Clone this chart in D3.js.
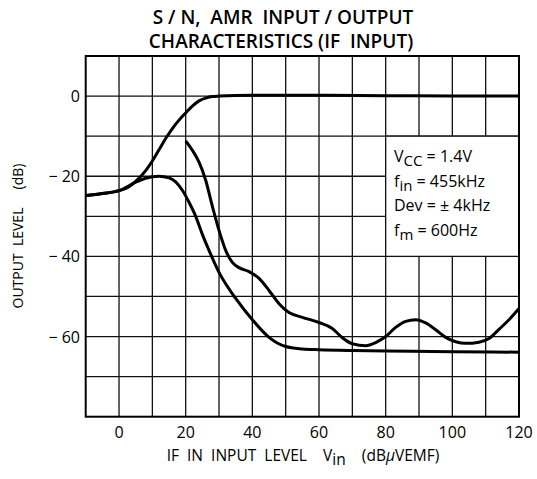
<!DOCTYPE html>
<html>
<head>
<meta charset="utf-8">
<script src="https://d3js.org/d3.v7.min.js"></script>
<style>
	body { margin: 0; background: white; }
	svg { display: block; font-family: "Open Sans", "DejaVu Sans", sans-serif; }
</style>
</head>
<body>
<svg width="537" height="479"></svg>
<script>
	// x values in dBuVEMF, y values in dB
	var xTicks = [0, 20, 40, 60, 80, 100, 120]
	var yTicks = [0, -20, -40, -60]

	var outX = [-10, -5, 0, 3, 5, 8, 10, 12, 14, 16, 18, 20, 22, 24, 26, 28, 30, 40, 60, 80, 100, 120]
	var outY = [-24.8, -24.3, -23.6, -22.6, -21.3, -18.6, -16.2, -13.4, -10.6, -8.1, -6.0, -4.2, -2.5, -1.2, -0.5, -0.1, 0, 0.2, 0.2, 0.1, 0, 0]

	var noiseX = [-10, -5, 0, 5, 8, 12, 15, 17, 19, 21, 23, 25, 27, 30, 35, 40, 45, 50, 55, 60, 70, 80, 100, 120]
	var noiseY = [-24.8, -24.3, -23.6, -21.5, -20.5, -20, -20.4, -21.4, -23.5, -26.5, -30, -34.5, -38.5, -44, -50.5, -55.8, -60.2, -62.5, -63.1, -63.3, -63.5, -63.6, -63.8, -63.9]

	var amrX = [20, 22, 24, 26, 28, 30, 32, 34, 36, 39, 42, 45, 48, 51, 55, 60, 64, 67, 70, 74, 77, 80, 83, 86, 89, 92, 95, 98, 101, 104, 108, 111, 114, 117, 120]
	var amrY = [-11.2, -13.5, -16.5, -21, -27.5, -33.5, -38.5, -41.5, -42.8, -43.8, -45.5, -48.5, -51.8, -54, -55.2, -56.5, -58, -60.3, -61.8, -62.3, -61.5, -60, -57.7, -56.2, -55.8, -56.6, -58.3, -60.2, -61.3, -61.7, -61.4, -60.5, -58.2, -55.8, -53]

	var legendLines = [
		{ main: "V", sub: "CC", rest: " = 1.4V" },
		{ main: "f", sub: "in", rest: " = 455kHz" },
		{ main: "Dev =  \u00b1 4kHz", sub: "", rest: "" },
		{ main: "f", sub: "m", rest: " = 600Hz" }
	]

	var svg = d3.select("svg")
	var x = d3.scaleLinear().domain([-10, 120]).range([85.7, 519])
	var y = d3.scaleLinear().domain([10, -80]).range([56, 416.7])

	// grid
	var grid = svg.append("g").attr("stroke", "#111").attr("stroke-width", 1.3)
	d3.range(0, 120, 10).forEach(v => {
		grid.append("line").attr("x1", x(v)).attr("x2", x(v)).attr("y1", y(10)).attr("y2", y(-80))
	})
	d3.range(0, -80, -10).forEach(v => {
		grid.append("line").attr("x1", x(-10)).attr("x2", x(120)).attr("y1", y(v)).attr("y2", y(v))
	})

	// legend box hides the grid
	svg.append("rect")
		.attr("x", x(80)).attr("y", y(-10))
		.attr("width", x(120) - x(80)).attr("height", y(-40) - y(-10))
		.attr("fill", "white").attr("stroke", "#111").attr("stroke-width", 1.3)

	svg.append("rect")
		.attr("x", x(-10)).attr("y", y(10))
		.attr("width", x(120) - x(-10)).attr("height", y(-80) - y(10))
		.attr("fill", "none").attr("stroke", "#000").attr("stroke-width", 2)

	// curves
	var line = d3.line().x(d => x(d[0])).y(d => y(d[1])).curve(d3.curveMonotoneX)
	;[[outX, outY], [noiseX, noiseY], [amrX, amrY]].forEach(s => {
		svg.append("path")
			.datum(d3.zip(s[0], s[1]))
			.attr("d", line)
			.attr("fill", "none")
			.attr("stroke", "#000")
			.attr("stroke-width", 3)
			.attr("stroke-linejoin", "round")
	})

	// tick labels
	svg.selectAll(".xt").data(xTicks).enter().append("text")
		.attr("x", d => x(d)).attr("y", 438)
		.attr("text-anchor", "middle").attr("font-size", 16)
		.text(d => d)
	svg.selectAll(".yt").data(yTicks).enter().append("text")
		.attr("x", 80).attr("y", d => y(d) + 6)
		.attr("text-anchor", "end").attr("font-size", 16)
		.text(d => d == 0 ? "0" : "\u2212 " + Math.abs(d))

	// legend text
	legendLines.forEach((l, i) => {
		var t = svg.append("text").attr("x", 394).attr("y", 162 + i * 24.5).attr("font-size", 16)
		t.append("tspan").text(l.main)
		if(l.sub) t.append("tspan").attr("dy", 4).attr("font-size", 15).text(l.sub)
		if(l.rest) t.append("tspan").attr("dy", l.sub ? -4 : 0).text(l.rest)
	})

	// titles
	svg.append("text").attr("x", 283).attr("y", 24).attr("text-anchor", "middle")
		.attr("font-size", 19).attr("font-weight", 600).attr("xml:space", "preserve")
		.text("S / N,  AMR  INPUT / OUTPUT")
	svg.append("text").attr("x", 281).attr("y", 48).attr("text-anchor", "middle")
		.attr("font-size", 19).attr("font-weight", 600).attr("xml:space", "preserve")
		.text("CHARACTERISTICS (IF  INPUT)")

	var xt = svg.append("text").attr("x", 303).attr("y", 461).attr("text-anchor", "middle")
		.attr("font-size", 15.5).attr("xml:space", "preserve")
	xt.append("tspan").text("IF  IN  INPUT  LEVEL    V")
	xt.append("tspan").attr("dy", 4).text("in")
	xt.append("tspan").attr("dy", -4).text("    (dB")
	xt.append("tspan").attr("font-style", "italic").text("\u03bc")
	xt.append("tspan").text("VEMF)")

	svg.append("text")
		.attr("transform", "translate(23,236) rotate(-90)")
		.attr("text-anchor", "middle").attr("font-size", 14).attr("xml:space", "preserve")
		.text("OUTPUT  LEVEL     (dB)")
</script>
</body>
</html>
